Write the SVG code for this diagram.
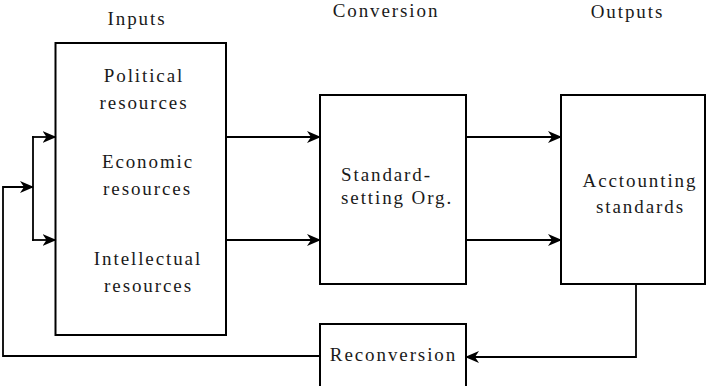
<svg xmlns="http://www.w3.org/2000/svg" width="706" height="386" viewBox="0 0 706 386">
  <style>
    text { font-size: 19px; letter-spacing: 1.9px; fill: #1a1a1a; text-anchor: middle; }
    .box { fill: #ffffff; stroke: #000000; stroke-width: 2; }
    .conn { fill: none; stroke: #000000; stroke-width: 1.8; }
  </style>
  <defs>
    <marker id="arrow" viewBox="0 0 14 12" refX="13" refY="6" markerWidth="14" markerHeight="12" markerUnits="userSpaceOnUse" orient="auto">
      <path d="M0,0 L14,6 L0,12 L4,6 z" fill="#000000"/>
    </marker>
  </defs>
  <rect width="706" height="386" fill="#ffffff"/>

  <g font-family="Liberation Serif">
    <!-- column headings -->
    <g id="headings">
      <text x="137" y="25">Inputs</text>
      <text x="386" y="17">Conversion</text>
      <text x="627.5" y="18">Outputs</text>
    </g>

    <g id="inputs">
      <rect class="box" x="55.5" y="43" width="170.5" height="292"/>
      <text x="144" y="82">Political</text>
      <text x="144" y="109">resources</text>
      <text x="148" y="168">Economic</text>
      <text x="147.5" y="195">resources</text>
      <text x="148" y="265">Intellectual</text>
      <text x="148.5" y="292">resources</text>
    </g>

    <g id="conversion">
      <rect class="box" x="320" y="95" width="146" height="189"/>
      <text x="341" y="181" style="text-anchor:start">Standard-</text>
      <text x="341" y="204" style="text-anchor:start">setting Org.</text>
    </g>

    <g id="outputs">
      <rect class="box" x="561" y="95" width="144" height="189"/>
      <text x="640" y="187">Acctounting</text>
      <text x="640.5" y="213">standards</text>
    </g>

    <g id="reconversion">
      <rect class="box" x="320" y="324" width="146" height="80"/>
      <text x="393.5" y="361">Reconversion</text>
    </g>
  </g>

  <g id="connectors">
    <!-- inputs to conversion -->
    <line class="conn" x1="226" y1="137" x2="320" y2="137" marker-end="url(#arrow)"/>
    <line class="conn" x1="226" y1="240" x2="320" y2="240" marker-end="url(#arrow)"/>
    <!-- conversion to outputs -->
    <line class="conn" x1="466" y1="137" x2="561" y2="137" marker-end="url(#arrow)"/>
    <line class="conn" x1="466" y1="240" x2="561" y2="240" marker-end="url(#arrow)"/>
    <!-- outputs back to reconversion -->
    <polyline class="conn" points="636,284 636,357 466,357" marker-end="url(#arrow)"/>
    <!-- reconversion back to inputs -->
    <polyline class="conn" points="320,356 3,356 3,187 33,187" marker-end="url(#arrow)"/>
    <line class="conn" x1="33" y1="136.1" x2="33" y2="240.9"/>
    <line class="conn" x1="32.1" y1="137" x2="55.5" y2="137" marker-end="url(#arrow)"/>
    <line class="conn" x1="32.1" y1="240" x2="55.5" y2="240" marker-end="url(#arrow)"/>
  </g>
</svg>
